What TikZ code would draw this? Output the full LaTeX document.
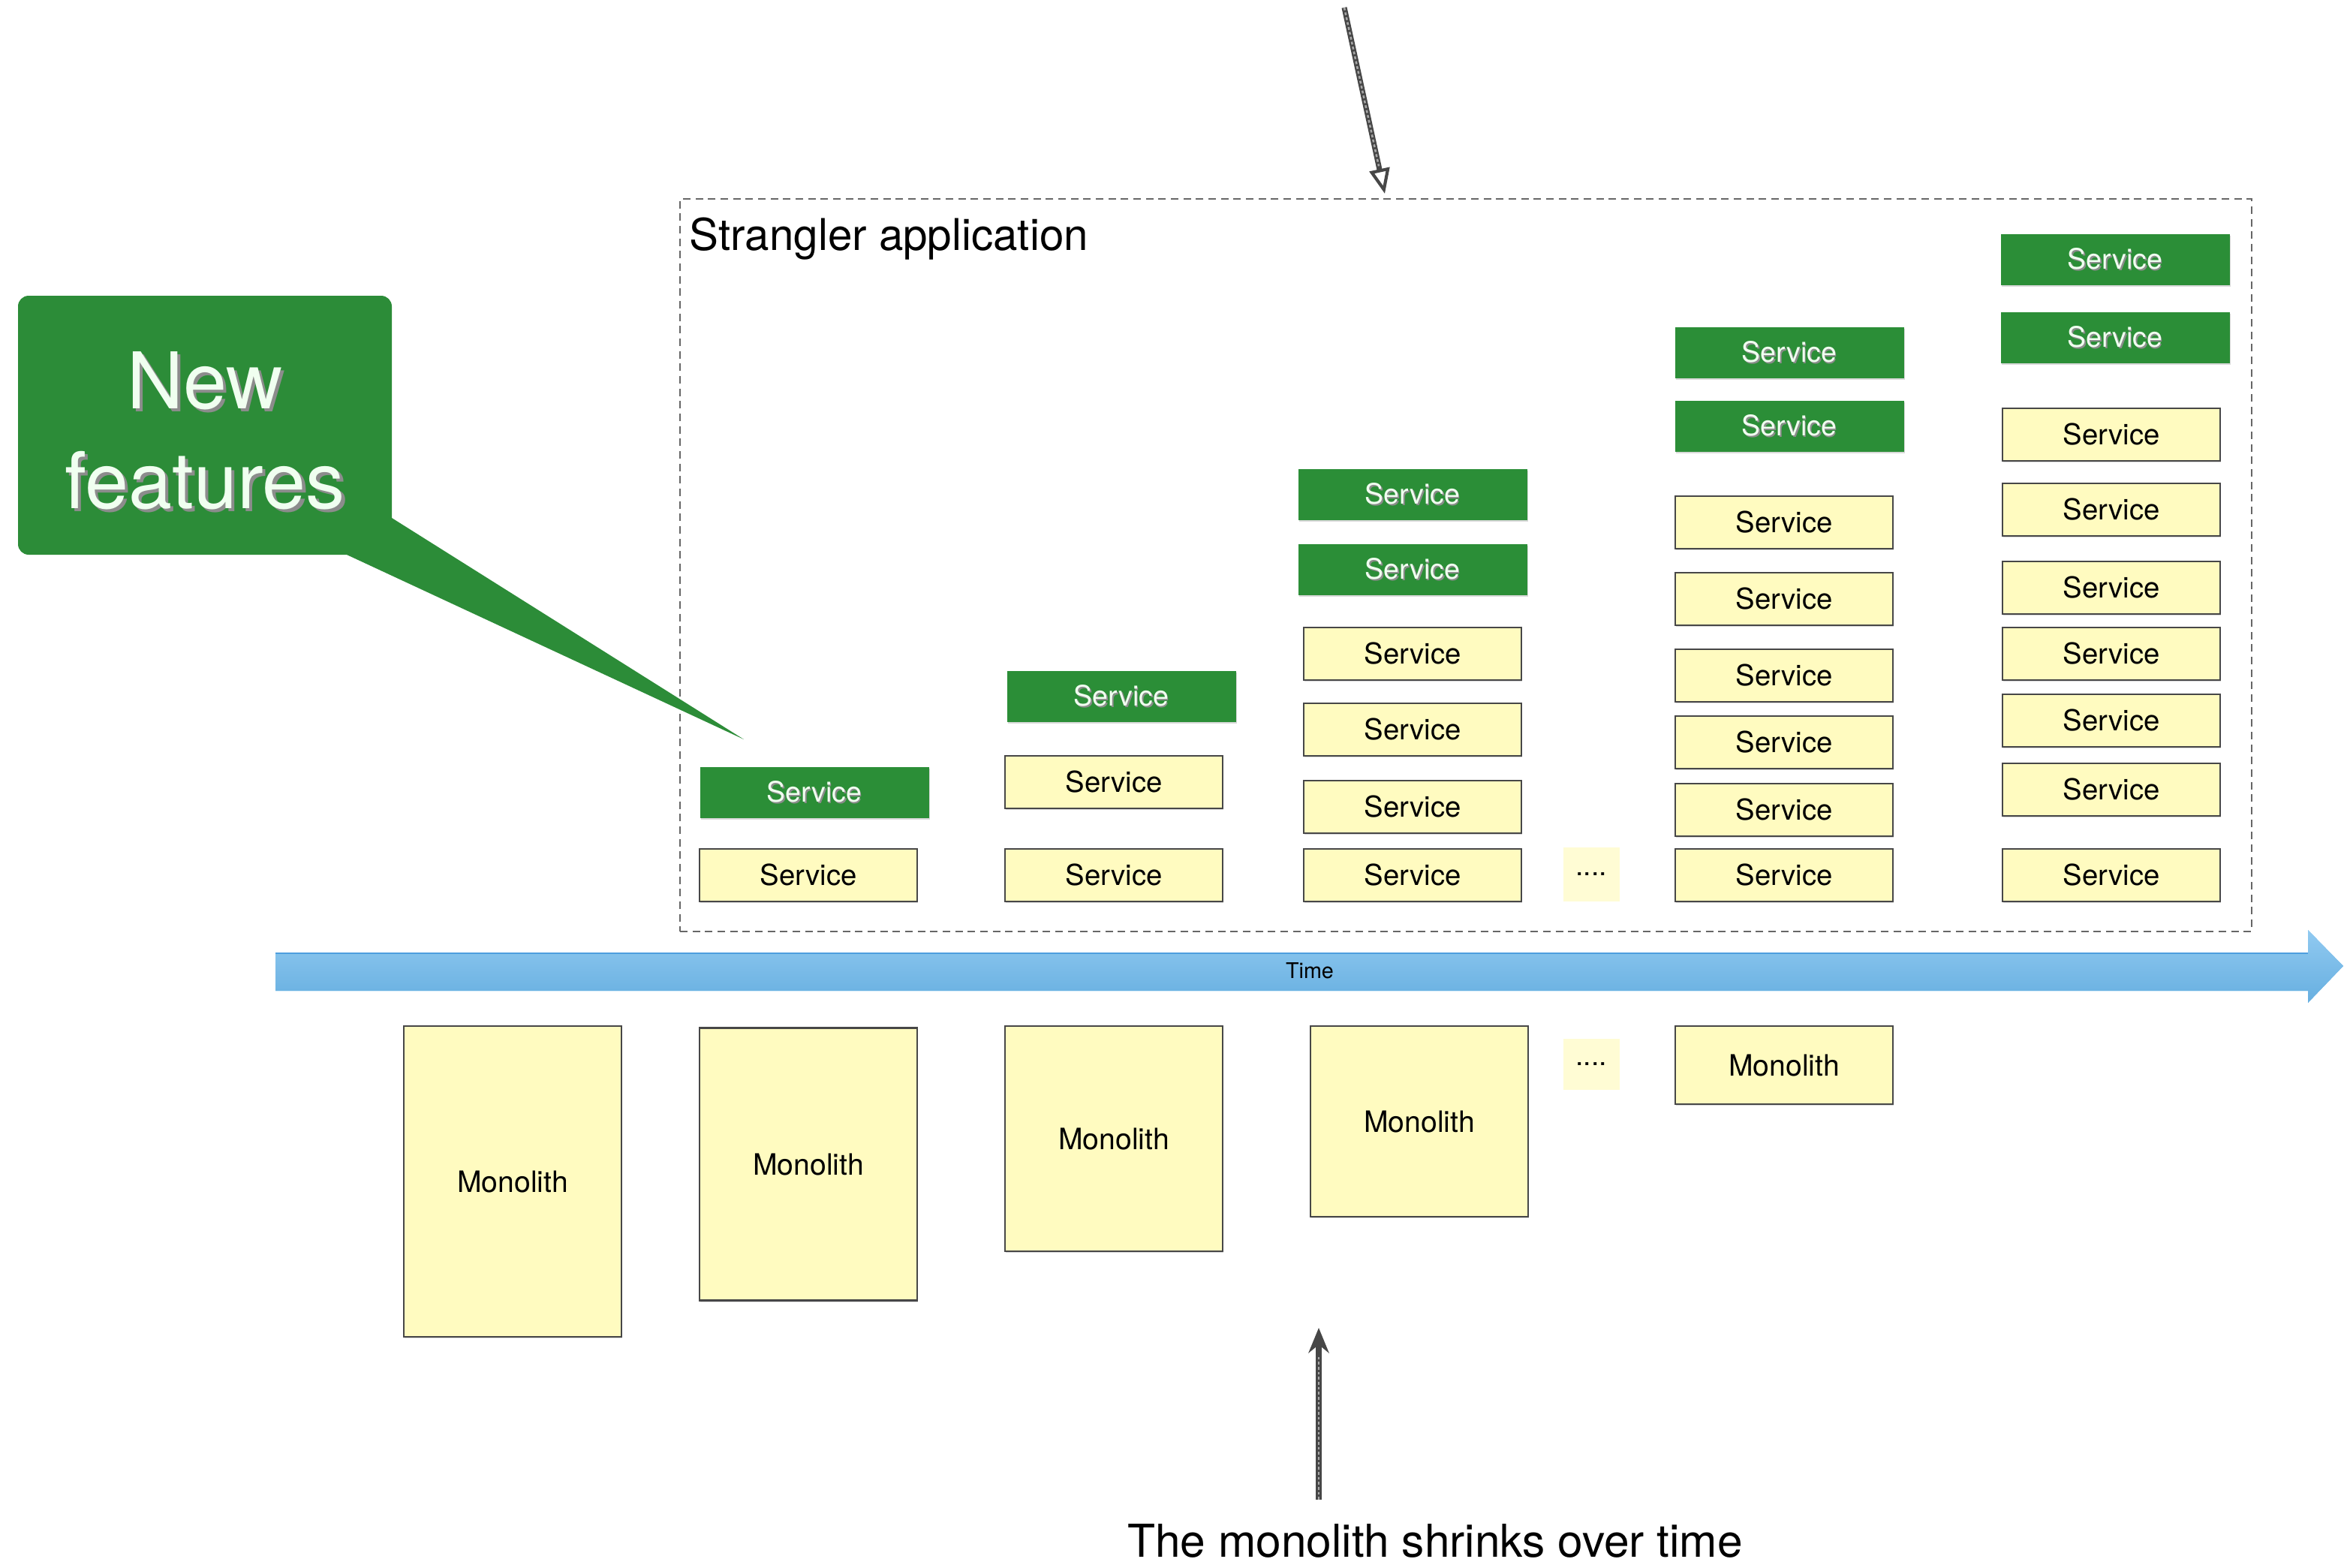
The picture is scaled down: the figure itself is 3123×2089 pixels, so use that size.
\documentclass[tikz,border=0pt]{standalone}
\usepackage{fontspec}
\setmainfont{TeX Gyre Heros}
\usetikzlibrary{arrows.meta,shadows}

% one unit of the drawing grid
\newcommand\upx{0.24pt}

\definecolor{svcyellow}{RGB}{255,251,192}
\definecolor{gapyellow}{RGB}{255,252,212}
\definecolor{svcgreen}{RGB}{43,142,55}
\definecolor{calloutgreen}{RGB}{44,140,56}
\definecolor{timeblue}{RGB}{108,184,236}
\definecolor{timeedge}{RGB}{78,158,222}

% light text with a soft dark shadow below right
\newcommand\glowtext[2][0.4pt]{%
  \makebox[0pt][l]{\hspace*{#1}\raisebox{-#1}{\textcolor{black!45}{#2}}}%
  \textcolor{green!6!white}{#2}}

\begin{document}
\begin{tikzpicture}[x=0.24pt,y=-0.24pt,
  svc/.style={draw=black!72, fill=svcyellow, line width=0.7pt,
    minimum width=290*\upx, minimum height=70*\upx, inner sep=0pt,
    font=\fontsize{9.2}{11}\selectfont,
    drop shadow={shadow xshift=0.3pt, shadow yshift=-0.5pt, opacity=0.3}},
  newsvc/.style={fill=svcgreen, minimum width=305*\upx, minimum height=68*\upx,
    inner sep=0pt, font=\fontsize{9}{11}\selectfont,
    drop shadow={shadow xshift=0.3pt, shadow yshift=-0.5pt, opacity=0.3}},
  mono/.style={draw=black!72, fill=svcyellow, line width=0.7pt,
    minimum width=290*\upx, inner sep=0pt,
    font=\fontsize{9.4}{11}\selectfont,
    drop shadow={shadow xshift=0.3pt, shadow yshift=-0.5pt, opacity=0.3}},
  gap/.style={fill=gapyellow, minimum width=75*\upx, minimum height=72*\upx,
    inner sep=0pt, font=\fontsize{9}{11}\selectfont},
  sketch/.style={draw=black!72, line width=1.7pt},
  sketchgrain/.style={draw=black!25, line width=0.6pt,
    dash pattern=on 0.9pt off 0.7pt, opacity=0.8}
]
\useasboundingbox (0,0) rectangle (3123,2089);

% strangler application frame
\node[draw=black!60, line width=0.6pt, dash pattern=on 2.4pt off 1.6pt,
      minimum width=2094*\upx, minimum height=976*\upx, inner sep=0pt]
  (app) at (1953,753) {};
\node[anchor=base west, font=\fontsize{14}{16}\selectfont, inner sep=0pt]
  (apptitle) at (918,333) {Strangler application};

% arrow pointing at the frame
\coordinate (growA) at (1791,10);
\coordinate (growB) at (1845,258);
\draw[sketch, -{Triangle[open, length=8pt, width=6.5pt, line width=1pt]}] (growA) -- (growB);
\draw[sketchgrain, shorten >=9pt] (growA) -- (growB);

% time axis
\fill[timeblue, top color=timeblue!75!white, bottom color=timeblue!95!black]
  (367,1270) -- (3075,1270) -- (3075,1239) -- (3122,1287) -- (3075,1336)
  -- (3075,1320) -- (367,1320) -- cycle;
\draw[timeedge, line width=0.5pt] (367,1270) -- (3075,1270);
\node[font=\fontsize{6.9}{8}\selectfont, inner sep=0pt] (time) at (1745,1293) {Time};

% column 1
\node[svc] (c1s1) at (1077,1166) {Service};
\node[newsvc] (c1n1) at (1085,1056) {\glowtext{Service}};

% column 2
\foreach \yy [count=\i] in {1166,1042}
  \node[svc] (c2s\i) at (1484,\yy) {Service};
\node[newsvc] (c2n1) at (1494,928) {\glowtext{Service}};

% column 3
\foreach \yy [count=\i] in {1166,1075,972,871}
  \node[svc] (c3s\i) at (1882,\yy) {Service};
\foreach \yy [count=\i] in {759,659}
  \node[newsvc] (c3n\i) at (1882,\yy) {\glowtext{Service}};

% elided steps
\node[gap] (gapup) at (2120,1165) {....};
\node[gap, minimum height=68*\upx] (gapdown) at (2120,1418) {....};

% column 4
\foreach \yy [count=\i] in {1166,1079,989,900,798,696}
  \node[svc] (c4s\i) at (2377,\yy) {Service};
\foreach \yy [count=\i] in {568,470}
  \node[newsvc] (c4n\i) at (2384,\yy) {\glowtext{Service}};

% column 5
\foreach \yy [count=\i] in {1166,1052,960,871,783,679,579}
  \node[svc] (c5s\i) at (2813,\yy) {Service};
\foreach \yy [count=\i] in {450,346}
  \node[newsvc] (c5n\i) at (2818,\yy) {\glowtext{Service}};

% the shrinking monolith
\node[mono, minimum height=414*\upx] (m1) at (683,1574) {Monolith};
\node[mono, minimum height=363*\upx] (m2) at (1077,1551) {Monolith};
\node[mono, minimum height=300*\upx] (m3) at (1484,1517) {Monolith};
\node[mono, minimum height=254*\upx] (m4) at (1891,1494) {Monolith};
\node[mono, minimum height=104*\upx] (m5) at (2377,1419) {Monolith};

% caption arrow below the monoliths
\node[anchor=base, font=\fontsize{14.5}{17}\selectfont, inner sep=0pt]
  (shrinks) at (1912,2074) {The monolith shrinks over time};
\coordinate (shrinkA) at (1757,1998);
\coordinate (shrinkB) at (1757,1769);
\draw[sketch, -{Stealth[length=8pt, width=6.5pt, fill=black!55]}] (shrinkA) -- (shrinkB);
\draw[sketchgrain, shorten >=9pt] (shrinkA) -- (shrinkB);

% new features callout
\fill[calloutgreen, rounded corners=3.4pt] (24,394) rectangle (522,739);
\fill[calloutgreen] (522,690) -- (991,985) -- (462,739) -- (500,700) -- cycle;
\node[anchor=base, font=\fontsize{25}{32}\selectfont, inner sep=0pt]
  (nfa) at (273,544) {\glowtext[1pt]{New}};
\node[anchor=base, font=\fontsize{25}{32}\selectfont, inner sep=0pt]
  (nfb) at (273,677) {\glowtext[1pt]{features}};
\end{tikzpicture}
\end{document}
